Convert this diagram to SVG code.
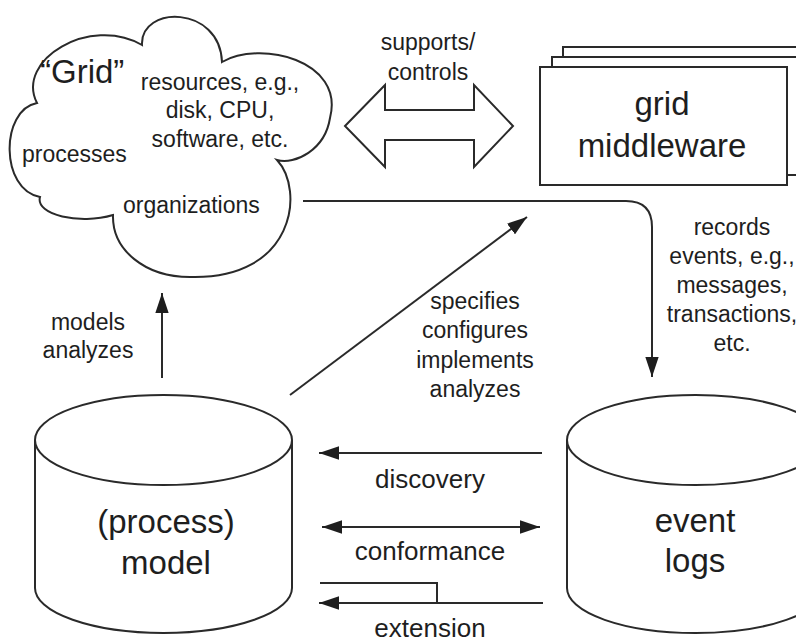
<svg xmlns="http://www.w3.org/2000/svg" width="796" height="644" viewBox="0 0 796 644">
<defs>
<style>
.s{fill:#fff;stroke:#2a2a2a;stroke-width:2}
.l{fill:none;stroke:#2a2a2a;stroke-width:2}
text{font-family:"Liberation Sans",Arial,sans-serif;fill:#1e1e1e}
.t23{font-size:23px}
.t26{font-size:26px}
.t33{font-size:33px}
.m{text-anchor:middle}
</style>
<marker id="ah" markerUnits="userSpaceOnUse" markerWidth="20" markerHeight="14" refX="18" refY="6" orient="auto-start-reverse" viewBox="0 0 18 12">
<path d="M0,0 L18,6 L0,12 Z" fill="#1e1e1e"/>
</marker>
</defs>
<rect width="796" height="644" fill="#fff"/>

<g id="grid-cloud">
<path class="s" d="M142,45 C140,5 220,5 222,62 C260,40 345,60 330,118 C325,150 295,165 277,160 C305,190 295,280 190,277 C145,277 112,250 113,215 C80,225 35,215 40,197 C0,190 0,110 37,103 C15,60 90,15 142,45 Z"/>
<text class="t33" x="40" y="83">“Grid”</text>
<text class="t23 m" x="220" y="90">resources, e.g.,</text>
<text class="t23 m" x="220" y="118">disk, CPU,</text>
<text class="t23 m" x="220" y="147">software, etc.</text>
<text class="t23" x="22" y="162">processes</text>
<text class="t23" x="123" y="213">organizations</text>
</g>

<g id="supports-arrow">
<polygon class="s" points="345,126 385,85 385,110 474,110 474,85 513,126 474,167 474,140 385,140 385,167"/>
<text class="t23 m" x="428" y="50">supports/</text>
<text class="t23 m" x="428" y="80">controls</text>
</g>

<g id="grid-middleware">
<rect class="s" x="563" y="47" width="247" height="118"/>
<rect class="s" x="552" y="57" width="247" height="118"/>
<rect class="s" x="540" y="67" width="247" height="118"/>
<text class="t33 m" x="662" y="115">grid</text>
<text class="t33 m" x="662" y="157">middleware</text>
</g>

<g id="process-model">
<path class="s" d="M35,440 V588 A128.5,45 0 0 0 292,588 V440"/>
<ellipse class="s" cx="163.5" cy="440" rx="128.5" ry="45"/>
<text class="t33 m" x="166" y="533">(process)</text>
<text class="t33 m" x="166" y="574">model</text>
</g>

<g id="event-logs">
<path class="s" d="M567,440 V588 A128.5,45 0 0 0 824,588 V440"/>
<ellipse class="s" cx="695.5" cy="440" rx="128.5" ry="45"/>
<text class="t33 m" x="695" y="532">event</text>
<text class="t33 m" x="695" y="572">logs</text>
</g>

<g id="connectors">
<path class="l" d="M303,201 H626 Q652,201 652,227 V377" marker-end="url(#ah)"/>
<line class="l" x1="162" y1="378" x2="162" y2="293" marker-end="url(#ah)"/>
<line class="l" x1="290" y1="395" x2="527" y2="217" marker-end="url(#ah)"/>
<line class="l" x1="542" y1="453" x2="319" y2="453" marker-end="url(#ah)"/>
<line class="l" x1="322" y1="527" x2="540" y2="527" marker-start="url(#ah)" marker-end="url(#ah)"/>
<path class="l" d="M320,583 H437 V603"/>
<line class="l" x1="543" y1="603" x2="319" y2="603" marker-end="url(#ah)"/>
</g>

<g id="labels">
<text class="t23 m" x="732" y="235">records</text>
<text class="t23 m" x="732" y="264">events, e.g.,</text>
<text class="t23 m" x="732" y="293">messages,</text>
<text class="t23 m" x="732" y="322">transactions,</text>
<text class="t23 m" x="732" y="351">etc.</text>
<text class="t23 m" x="88" y="330">models</text>
<text class="t23 m" x="88" y="358">analyzes</text>
<text class="t23 m" x="475" y="309">specifies</text>
<text class="t23 m" x="475" y="338">configures</text>
<text class="t23 m" x="475" y="368">implements</text>
<text class="t23 m" x="475" y="397">analyzes</text>
<text class="t26 m" x="430" y="488">discovery</text>
<text class="t26 m" x="430" y="560">conformance</text>
<text class="t26 m" x="430" y="637">extension</text>
</g>
</svg>
